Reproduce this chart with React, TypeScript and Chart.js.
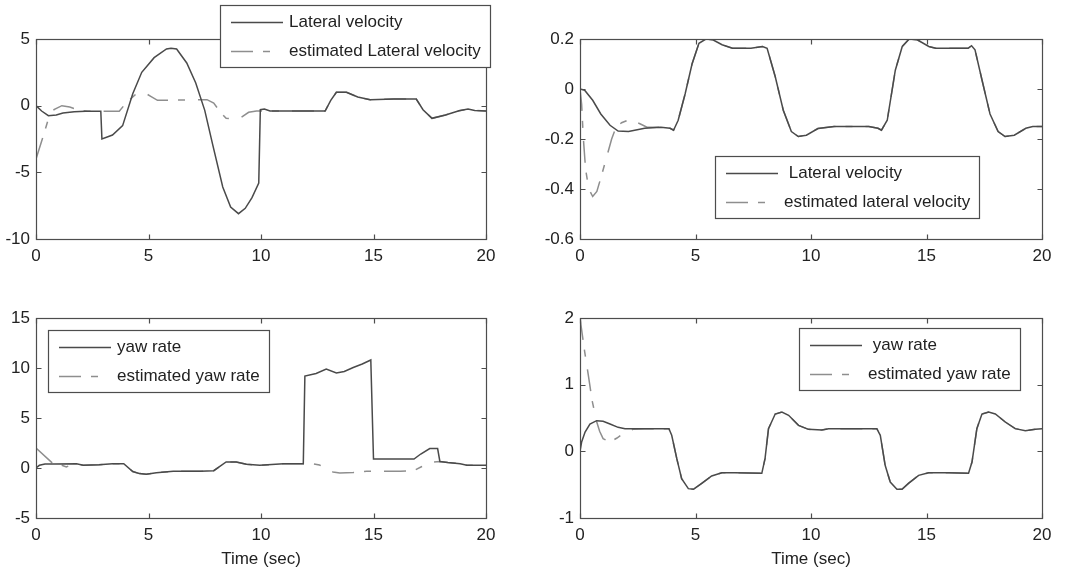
import React, { useEffect, useRef } from 'react';
import { Chart, registerables } from 'chart.js';

Chart.register(...registerables);

const FONT = '"Liberation Sans", Arial, Helvetica, sans-serif';

// ---------- shared ticks ----------
const timeTicks = [0, 5, 10, 15, 20];
const latVelTicks = [-10, -5, 0, 5];
const latVel2Ticks = [-0.6, -0.4, -0.2, 0, 0.2];
const yawTicks = [-5, 0, 5, 10, 15];
const yaw2Ticks = [-1, 0, 1, 2];

// ---------- top-left: lateral velocity ----------
const lv1T = [0, 0.25, 0.55, 0.9, 1.2, 1.7, 2.2, 2.88, 2.93, 3.4, 3.85, 4.3, 4.7, 5.25, 5.8, 6.0, 6.25, 6.7, 7.1, 7.5, 7.85, 8.3, 8.65, 9.0, 9.3, 9.6, 9.9, 9.97, 10.15, 10.4, 12.85, 13.1, 13.35, 13.8, 14.3, 14.85, 15.9, 16.9, 17.2, 17.6, 18.2, 18.8, 19.2, 19.5, 20];
const lv1Y = [0, -0.4, -0.75, -0.7, -0.55, -0.45, -0.42, -0.42, -2.5, -2.2, -1.5, 0.9, 2.5, 3.6, 4.25, 4.3, 4.25, 3.2, 1.7, -0.35, -2.9, -6.1, -7.6, -8.1, -7.7, -6.9, -5.8, -0.3, -0.25, -0.4, -0.4, 0.4, 1.0, 1.0, 0.65, 0.45, 0.5, 0.5, -0.3, -0.95, -0.7, -0.38, -0.25, -0.36, -0.4];
const estLv1T = [0, 0.3, 0.55, 0.8, 1.15, 1.5, 1.9, 2.3, 3.7, 4.0, 4.4, 4.8, 5.1, 5.4, 7.6, 7.9, 8.2, 8.45, 8.8, 9.1, 9.45, 9.8, 10.4, 12.85, 13.1, 13.35, 13.8, 14.3, 14.85, 15.9, 16.9, 17.2, 17.6, 18.2, 18.8, 19.2, 19.5, 20];
const estLv1Y = [-4.0, -2.4, -1.0, -0.3, 0.0, -0.1, -0.33, -0.42, -0.42, 0.2, 0.8, 1.0, 0.7, 0.4, 0.45, 0.2, -0.5, -0.95, -1.0, -0.9, -0.5, -0.4, -0.4, -0.4, 0.4, 1.0, 1.0, 0.65, 0.45, 0.5, 0.5, -0.3, -0.95, -0.7, -0.38, -0.25, -0.36, -0.4];

// ---------- top-right: lateral velocity ----------
const lv2T = [0, 0.2, 0.55, 0.9, 1.3, 1.65, 2.1, 2.8, 3.5, 3.9, 4.05, 4.25, 4.55, 4.85, 5.15, 5.45, 5.75, 6.15, 6.6, 7.4, 7.9, 8.1, 8.45, 8.8, 9.15, 9.45, 9.8, 10.3, 11.0, 12.5, 12.9, 13.05, 13.3, 13.65, 13.95, 14.25, 14.6, 15.1, 15.4, 16.8, 16.95, 17.1, 17.4, 17.75, 18.1, 18.4, 18.8, 19.3, 19.6, 20];
const lv2Y = [0, -0.005, -0.045, -0.1, -0.145, -0.168, -0.17, -0.157, -0.153, -0.157, -0.165, -0.125, -0.02, 0.1, 0.183, 0.2, 0.197, 0.177, 0.163, 0.163, 0.17, 0.163, 0.05, -0.085, -0.17, -0.19, -0.185, -0.158, -0.15, -0.15, -0.157, -0.165, -0.125, 0.075, 0.17, 0.2, 0.197, 0.17, 0.163, 0.163, 0.173, 0.157, 0.037, -0.1, -0.17, -0.19, -0.185, -0.157, -0.15, -0.15];
const estLv2T = [0, 0.07, 0.14, 0.24, 0.38, 0.55, 0.73, 0.95, 1.16, 1.37, 1.55, 1.8, 2.2, 2.55, 2.9, 3.5, 3.9, 4.05, 4.25, 4.55, 4.85, 5.15, 5.45, 5.75, 6.15, 6.6, 7.4, 7.9, 8.1, 8.45, 8.8, 9.15, 9.45, 9.8, 10.3, 11.0, 12.5, 12.9, 13.05, 13.3, 13.65, 13.95, 14.25, 14.6, 15.1, 15.4, 16.8, 16.95, 17.1, 17.4, 17.75, 18.1, 18.4, 18.8, 19.3, 19.6, 20];
const estLv2Y = [0, -0.06, -0.19, -0.32, -0.4, -0.43, -0.41, -0.34, -0.27, -0.2, -0.155, -0.135, -0.12, -0.137, -0.153, -0.153, -0.157, -0.165, -0.125, -0.02, 0.1, 0.183, 0.2, 0.197, 0.177, 0.163, 0.163, 0.17, 0.163, 0.05, -0.085, -0.17, -0.19, -0.185, -0.158, -0.15, -0.15, -0.157, -0.165, -0.125, 0.075, 0.17, 0.2, 0.197, 0.17, 0.163, 0.163, 0.173, 0.157, 0.037, -0.1, -0.17, -0.19, -0.185, -0.157, -0.15, -0.15];

// ---------- bottom-left: yaw rate ----------
const yaw1T = [0, 0.15, 0.4, 0.8, 1.8, 2.1, 2.8, 3.4, 3.9, 4.3, 4.6, 4.9, 5.35, 6.1, 7.3, 7.9, 8.45, 8.9, 9.35, 9.95, 11.0, 11.88, 11.95, 12.45, 12.9, 13.35, 13.7, 14.1, 14.5, 14.88, 15.0, 15.5, 16.8, 17.1, 17.5, 17.85, 17.95, 18.3, 18.85, 19.15, 20];
const yaw1Y = [0, 0.27, 0.4, 0.4, 0.43, 0.27, 0.33, 0.43, 0.43, -0.35, -0.56, -0.63, -0.47, -0.33, -0.33, -0.27, 0.6, 0.6, 0.37, 0.27, 0.43, 0.43, 9.2, 9.45, 9.9, 9.5, 9.65, 10.05, 10.4, 10.8, 0.9, 0.9, 0.9, 1.4, 1.95, 1.95, 0.65, 0.55, 0.43, 0.27, 0.27];
const estYaw1T = [0, 0.75, 1.0, 1.35, 1.6, 1.8, 2.1, 2.8, 3.4, 3.9, 4.3, 4.6, 4.9, 5.35, 6.1, 7.3, 7.9, 8.45, 8.9, 9.35, 9.95, 11.0, 11.88, 12.3, 12.6, 13.2, 13.5, 14.1, 14.7, 16.2, 16.8, 17.15, 17.5, 17.95, 18.3, 18.85, 19.15, 20];
const estYaw1Y = [2.0, 0.45, 0.4, 0.1, 0.35, 0.43, 0.27, 0.33, 0.43, 0.43, -0.35, -0.56, -0.63, -0.47, -0.33, -0.33, -0.27, 0.6, 0.6, 0.37, 0.27, 0.43, 0.43, 0.43, 0.3, -0.4, -0.5, -0.45, -0.33, -0.33, -0.25, 0.15, 0.55, 0.65, 0.55, 0.43, 0.27, 0.27];

// ---------- bottom-right: yaw rate ----------
const yaw2T = [0, 0.07, 0.22, 0.43, 0.72, 1.0, 1.3, 1.65, 1.95, 2.4, 3.85, 3.97, 4.19, 4.4, 4.69, 4.91, 5.27, 5.7, 6.14, 6.7, 7.87, 8.01, 8.16, 8.45, 8.74, 9.03, 9.46, 9.89, 10.47, 10.76, 12.85, 13.0, 13.21, 13.43, 13.72, 13.94, 14.22, 14.66, 15.09, 15.96, 16.82, 16.97, 17.18, 17.4, 17.69, 17.98, 18.41, 18.84, 19.28, 19.71, 20];
const yaw2Y = [0, 0.14, 0.29, 0.41, 0.46, 0.45, 0.41, 0.36, 0.34, 0.34, 0.34, 0.24, -0.11, -0.41, -0.56, -0.57, -0.48, -0.37, -0.32, -0.32, -0.33, -0.11, 0.34, 0.56, 0.59, 0.54, 0.39, 0.33, 0.32, 0.34, 0.34, 0.24, -0.21, -0.46, -0.57, -0.57, -0.48, -0.36, -0.32, -0.32, -0.33, -0.16, 0.34, 0.56, 0.59, 0.56, 0.44, 0.34, 0.31, 0.33, 0.34];
const estYaw2T = [0, 0.2, 0.37, 0.52, 0.7, 0.85, 1.0, 1.3, 1.6, 1.9, 2.3, 2.8, 3.85, 3.97, 4.19, 4.4, 4.69, 4.91, 5.27, 5.7, 6.14, 6.7, 7.87, 8.01, 8.16, 8.45, 8.74, 9.03, 9.46, 9.89, 10.47, 10.76, 12.85, 13.0, 13.21, 13.43, 13.72, 13.94, 14.22, 14.66, 15.09, 15.96, 16.82, 16.97, 17.18, 17.4, 17.69, 17.98, 18.41, 18.84, 19.28, 19.71, 20];
const estYaw2Y = [2.0, 1.5, 1.12, 0.77, 0.47, 0.3, 0.19, 0.14, 0.2, 0.27, 0.33, 0.34, 0.34, 0.24, -0.11, -0.41, -0.56, -0.57, -0.48, -0.37, -0.32, -0.32, -0.33, -0.11, 0.34, 0.56, 0.59, 0.54, 0.39, 0.33, 0.32, 0.34, 0.34, 0.24, -0.21, -0.46, -0.57, -0.57, -0.48, -0.36, -0.32, -0.32, -0.33, -0.16, 0.34, 0.56, 0.59, 0.56, 0.44, 0.34, 0.31, 0.33, 0.34];

// ---------- styles ----------
const SOLID_COLOR = '#4a4a4a';
const DASH_COLOR = '#8e8e8e';
const DASH = [22, 10, 7, 13];
const AXIS_COLOR = '#4d4d4d';
const TEXT_COLOR = '#222222';
const FONT_SIZE = 17;

const toXY = (t: number[], v: number[]) => t.map((x, i) => ({ x, y: v[i] }));

const matlabFrame = {
  id: 'matlabFrame',
  afterDatasetsDraw(chart: any, _args: any, opts: any) {
    const { ctx, chartArea: a } = chart;
    const xs = chart.scales.x;
    const ys = chart.scales.y;
    ctx.save();
    ctx.setLineDash([]);
    ctx.strokeStyle = AXIS_COLOR;
    ctx.lineWidth = 1.2;
    const L = Math.round(a.left) + 0.5;
    const R = Math.round(a.right) + 0.5;
    const T = Math.round(a.top) + 0.5;
    const B = Math.round(a.bottom) + 0.5;
    ctx.strokeRect(L, T, R - L, B - T);
    const tl = 5;
    ctx.beginPath();
    for (const v of opts.xTicks) {
      const px = Math.round(xs.getPixelForValue(v)) + 0.5;
      ctx.moveTo(px, B); ctx.lineTo(px, B - tl);
      ctx.moveTo(px, T); ctx.lineTo(px, T + tl);
    }
    for (const v of opts.yTicks) {
      const py = Math.round(ys.getPixelForValue(v)) + 0.5;
      ctx.moveTo(L, py); ctx.lineTo(L + tl, py);
      ctx.moveTo(R, py); ctx.lineTo(R - tl, py);
    }
    ctx.stroke();
    ctx.restore();
  },
  afterDraw(chart: any, _args: any, opts: any) {
    const { ctx } = chart;
    const lg = opts.legend;
    if (!lg) return;
    ctx.save();
    ctx.font = `${FONT_SIZE}px ${FONT}`;
    const ds = chart.data.datasets;
    const textW = Math.max(...ds.map((d: any) => ctx.measureText(d.label).width));
    const padL = 11, lineLen = 52, gap = 6, padR = 9;
    const w = Math.round(padL + lineLen + gap + textW + padR);
    const h = 62;
    const x = lg.x, y = lg.y;
    ctx.fillStyle = '#ffffff';
    ctx.fillRect(x, y, w, h);
    ctx.setLineDash([]);
    ctx.strokeStyle = AXIS_COLOR;
    ctx.lineWidth = 1.2;
    ctx.strokeRect(x + 0.5, y + 0.5, w, h);
    ds.forEach((d: any, i: number) => {
      const cy = Math.round(y + 17 + i * 28.5) + 0.5;
      ctx.beginPath();
      ctx.strokeStyle = d.borderColor;
      ctx.lineWidth = d.borderWidth;
      ctx.setLineDash(d.borderDash || []);
      ctx.moveTo(x + padL, cy);
      ctx.lineTo(x + padL + lineLen, cy);
      ctx.stroke();
      ctx.setLineDash([]);
      ctx.fillStyle = TEXT_COLOR;
      ctx.textBaseline = 'middle';
      ctx.textAlign = 'left';
      ctx.fillText(d.label, x + padL + lineLen + gap, cy);
    });
    ctx.restore();
  },
};

type Panel = {
  left: number; top: number; width: number; height: number;
  padTop: number; padRight: number; yW: number; xH: number;
  yMin: number; yMax: number; yTicks: number[];
  title: boolean;
  solidLabel: string; dashLabel: string;
  solid: { x: number; y: number }[]; dashed: { x: number; y: number }[];
  legend: { x: number; y: number };
};

const panels: Panel[] = [
  {
    left: 0, top: 0, width: 535, height: 287, padTop: 39, padRight: 49, yW: 36, xH: 48,
    yMin: -10, yMax: 5, yTicks: latVelTicks, title: false,
    solidLabel: 'Lateral velocity', dashLabel: 'estimated Lateral velocity',
    solid: toXY(lv1T, lv1Y), dashed: toXY(estLv1T, estLv1Y), legend: { x: 220, y: 5 },
  },
  {
    left: 535, top: 0, width: 535, height: 287, padTop: 39, padRight: 28, yW: 45, xH: 48,
    yMin: -0.6, yMax: 0.2, yTicks: latVel2Ticks, title: false,
    solidLabel: ' Lateral velocity', dashLabel: 'estimated lateral velocity',
    solid: toXY(lv2T, lv2Y), dashed: toXY(estLv2T, estLv2Y), legend: { x: 180, y: 156 },
  },
  {
    left: 0, top: 287, width: 535, height: 288, padTop: 31, padRight: 49, yW: 36, xH: 57,
    yMin: -5, yMax: 15, yTicks: yawTicks, title: true,
    solidLabel: 'yaw rate', dashLabel: 'estimated yaw rate',
    solid: toXY(yaw1T, yaw1Y), dashed: toXY(estYaw1T, estYaw1Y), legend: { x: 48, y: 43 },
  },
  {
    left: 535, top: 287, width: 535, height: 288, padTop: 31, padRight: 28, yW: 45, xH: 57,
    yMin: -1, yMax: 2, yTicks: yaw2Ticks, title: true,
    solidLabel: ' yaw rate', dashLabel: 'estimated yaw rate',
    solid: toXY(yaw2T, yaw2Y), dashed: toXY(estYaw2T, estYaw2Y), legend: { x: 264, y: 41 },
  },
];

function ChartPanel({ p }: { p: Panel }) {
  const ref = useRef<HTMLCanvasElement>(null);
  useEffect(() => {
    if (!ref.current) return;
    const font = { family: FONT, size: FONT_SIZE };
    const chart = new Chart(ref.current, {
      type: 'line',
      data: {
        datasets: [
          {
            label: p.solidLabel, data: p.solid, borderColor: SOLID_COLOR, borderWidth: 1.5,
            borderDash: [], pointRadius: 0, tension: 0, fill: false, order: 0,
          },
          {
            label: p.dashLabel, data: p.dashed, borderColor: DASH_COLOR, borderWidth: 1.5,
            borderDash: DASH, pointRadius: 0, tension: 0, fill: false, order: 1,
          },
        ],
      },
      options: {
        animation: false,
        responsive: false,
        maintainAspectRatio: false,
        events: [],
        layout: { padding: { left: 0, top: p.padTop, right: p.padRight, bottom: 0 } },
        plugins: {
          legend: { display: false },
          tooltip: { enabled: false },
          matlabFrame: { xTicks: timeTicks, yTicks: p.yTicks, legend: p.legend },
        } as any,
        scales: {
          x: {
            type: 'linear', min: 0, max: 20,
            afterBuildTicks: (s: any) => { s.ticks = timeTicks.map((v) => ({ value: v })); },
            afterFit: (s: any) => { s.height = p.xH; },
            grid: { display: false, drawTicks: false },
            border: { display: false },
            ticks: { padding: 7, color: TEXT_COLOR, font, maxRotation: 0, autoSkip: false, callback: (v: any) => String(v) },
            title: { display: p.title, text: 'Time (sec)', color: TEXT_COLOR, font, padding: { top: 0, bottom: 5 } },
          },
          y: {
            type: 'linear', min: p.yMin, max: p.yMax,
            afterBuildTicks: (s: any) => { s.ticks = p.yTicks.map((v) => ({ value: v })); },
            afterFit: (s: any) => { s.width = p.yW; },
            grid: { display: false, drawTicks: false },
            border: { display: false },
            ticks: { padding: 6, color: TEXT_COLOR, font, autoSkip: false, callback: (v: any) => String(Math.round(Number(v) * 10) / 10) },
          },
        },
      } as any,
      plugins: [matlabFrame],
    });
    return () => chart.destroy();
  }, [p]);
  return (
    <canvas
      ref={ref}
      width={p.width}
      height={p.height}
      style={{ position: 'absolute', left: p.left, top: p.top, width: p.width, height: p.height, display: 'block' }}
    />
  );
}

export default function App() {
  return (
    <div style={{ position: 'absolute', left: 0, top: 0, width: 1070, height: 575, background: '#ffffff', overflow: 'hidden' }}>
      {panels.map((p, i) => (
        <ChartPanel key={i} p={p} />
      ))}
    </div>
  );
}
